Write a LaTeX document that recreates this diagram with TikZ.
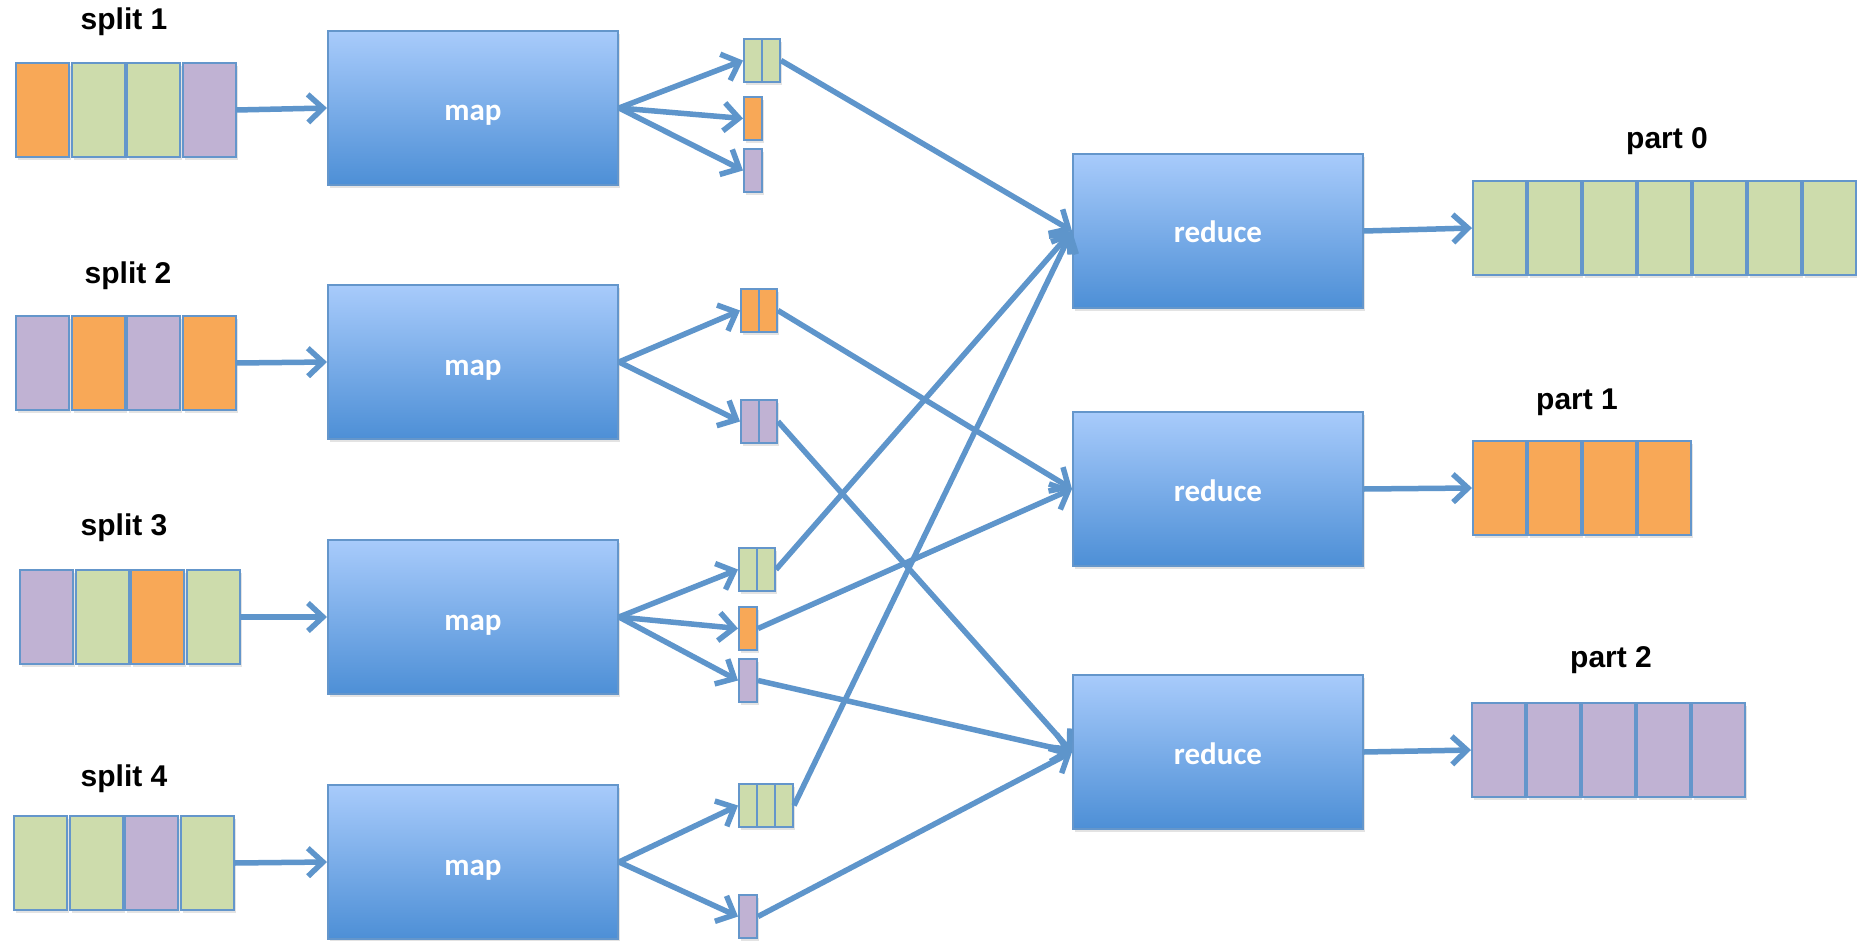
\documentclass[tikz,border=0pt]{standalone}
\usepackage{fontspec}
\setmainfont{Liberation Sans}
\newfontfamily\calfont{Carlito}
\usetikzlibrary{arrows.meta,shadows}
\definecolor{org}{HTML}{F8A857}
\definecolor{grn}{HTML}{CDDCAC}
\definecolor{prp}{HTML}{C0B2D3}
\definecolor{bord}{HTML}{6496CB}
\definecolor{arr}{HTML}{5E95CB}
\definecolor{maptop}{HTML}{A8CBFB}
\definecolor{mapbot}{HTML}{4D8FD6}
\newcommand{\lowtext}[2]{\raisebox{-#1}[0pt][0pt]{#2}}
\begin{document}
\begin{tikzpicture}[x=1pt,y=-1pt,
  shad/.style={drop shadow={opacity=0.22,shadow xshift=2pt,shadow yshift=-3pt}},
  cell/.style={draw=bord, line width=2pt, minimum width=53pt, minimum height=94pt, inner sep=0pt, anchor=north west, shad},
  mini/.style={cell, minimum width=18pt, minimum height=43pt},
  proc/.style={draw=bord, line width=2pt, top color=maptop, bottom color=mapbot, minimum width=290pt, minimum height=154pt, inner sep=0pt, anchor=north west, text=white, font=\calfont\bfseries\fontsize{31}{36}\selectfont, shad},
  lbl/.style={font=\bfseries\fontsize{30}{36}\selectfont, inner sep=0pt},
  flow/.style={draw=arr, line width=5.5pt, -{Straight Barb[length=15pt,width=28pt]}}
]
\useasboundingbox[fill=white] (0,0) rectangle (1857,941);

% split labels
\node[lbl] (l1) at (124,22) {split 1};
\node[lbl] (l2) at (128,276) {split 2};
\node[lbl] (l3) at (124,528) {split 3};
\node[lbl] (l4) at (124,779) {split 4};
\node[lbl] (lp0) at (1667,141) {part 0};
\node[lbl] (lp1) at (1577,402) {part 1};
\node[lbl] (lp2) at (1611,660) {part 2};

% split rows
\foreach \c [count=\i] in {org,grn,grn,prp}
  \node[cell,fill=\c] (s1-\i) at ({15+(\i-1)*55.5},62) {};
\foreach \c [count=\i] in {prp,org,prp,org}
  \node[cell,fill=\c] (s2-\i) at ({15+(\i-1)*55.5},315) {};
\foreach \c [count=\i] in {prp,grn,org,grn}
  \node[cell,fill=\c] (s3-\i) at ({19+(\i-1)*55.5},569) {};
\foreach \c [count=\i] in {grn,grn,prp,grn}
  \node[cell,fill=\c] (s4-\i) at ({13+(\i-1)*55.5},815) {};

% maps
\node[proc] (m1) at (327,30) {\lowtext{13pt}{map}};
\node[proc] (m2) at (327,284) {\lowtext{13pt}{map}};
\node[proc] (m3) at (327,539) {\lowtext{13pt}{map}};
\node[proc] (m4) at (327,784) {\lowtext{13pt}{map}};

% reduces
\node[proc] (r1) at (1072,153) {\lowtext{12pt}{reduce}};
\node[proc] (r2) at (1072,411) {\lowtext{12pt}{reduce}};
\node[proc] (r3) at (1072,674) {\lowtext{12pt}{reduce}};

% map outputs
\node[mini,fill=grn] (a1-1) at (743,38) {};
\node[mini,fill=grn] (a1-2) at (761,38) {};
\node[mini,fill=org] (b1) at (743,96) {};
\node[mini,fill=prp] (c1) at (743,148) {};

\node[mini,fill=org] (b2-1) at (740,288) {};
\node[mini,fill=org] (b2-2) at (758,288) {};
\node[mini,fill=prp] (c2-1) at (740,399) {};
\node[mini,fill=prp] (c2-2) at (758,399) {};

\node[mini,fill=grn] (a3-1) at (738,547) {};
\node[mini,fill=grn] (a3-2) at (756,547) {};
\node[mini,fill=org] (b3) at (738,606) {};
\node[mini,fill=prp] (c3) at (738,658) {};

\node[mini,fill=grn] (a4-1) at (738,783) {};
\node[mini,fill=grn] (a4-2) at (756,783) {};
\node[mini,fill=grn] (a4-3) at (774,783) {};
\node[mini,fill=prp] (c4) at (738,894) {};

% parts
\foreach \i in {1,...,7}
  \node[cell,fill=grn] (p0-\i) at ({1472+(\i-1)*55},180) {};
\foreach \i in {1,...,4}
  \node[cell,fill=org] (p1-\i) at ({1472+(\i-1)*55},440) {};
\foreach \i in {1,...,5}
  \node[cell,fill=prp] (p2-\i) at ({1471+(\i-1)*55},702) {};

% split -> map
\draw[flow] (s1-4.east) -- (m1.west);
\draw[flow] (s2-4.east) -- (m2.west);
\draw[flow] (s3-4.east) -- (m3.west);
\draw[flow] (s4-4.east) -- (m4.west);

% map -> outputs
\draw[flow] (m1.east) -- (a1-1.west);
\draw[flow] (m1.east) -- (b1.west);
\draw[flow] (m1.east) -- (c1.west);
\draw[flow] (m2.east) -- (b2-1.west);
\draw[flow] (m2.east) -- (c2-1.west);
\draw[flow] (m3.east) -- (a3-1.west);
\draw[flow] (m3.east) -- (b3.west);
\draw[flow] (m3.east) -- (c3.west);
\draw[flow] (m4.east) -- (a4-1.west);
\draw[flow] (m4.east) -- (c4.west);

% outputs -> reduce
\draw[flow] (a1-2.east) -- (r1.west);
\draw[flow] (b2-2.east) -- (r2.west);
\draw[flow] (c2-2.east) -- (r3.west);
\draw[flow] (a3-2.east) -- (r1.west);
\draw[flow] (b3.east) -- (r2.west);
\draw[flow] (c3.east) -- (r3.west);
\draw[flow] (a4-3.east) -- (r1.west);
\draw[flow] (c4.east) -- (r3.west);

% reduce -> parts
\draw[flow] (r1.east) -- (p0-1.west);
\draw[flow] (r2.east) -- (p1-1.west);
\draw[flow] (r3.east) -- (p2-1.west);
\end{tikzpicture}
\end{document}
